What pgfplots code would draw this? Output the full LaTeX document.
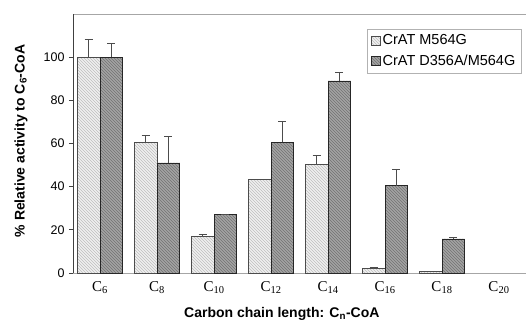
\documentclass[border=0pt]{standalone}
\usepackage{pgfplots}
\pgfplotsset{compat=1.18}
\usepackage{fontspec}
\setmainfont{Liberation Sans}
\newfontfamily\serif{Liberation Serif}
\usetikzlibrary{patterns}
\definecolor{lightfill}{HTML}{F0F0F0}
\definecolor{darkfill}{HTML}{A4A4A4}
\begin{document}
\begin{tikzpicture}
\useasboundingbox (-73pt,-49pt) rectangle (453pt,273pt);
\begin{axis}[
  at={(0,0)}, anchor=south west, scale only axis,
  width=453pt, height=259pt,
  xmin=-0.474, xmax=7.474, ymin=0, ymax=120,
  axis x line*=box, axis y line*=left,
  x axis line style={draw=gray!70, line width=1pt},
  y axis line style={draw=black!75, line width=0.8pt},
  ytick={0,20,40,60,80,100},
  xtick={0,1,2,3,4,5,6,7},
  xticklabels={{\serif C\textsubscript{6}},{\serif C\textsubscript{8}},{\serif C\textsubscript{10}},{\serif C\textsubscript{12}},{\serif C\textsubscript{14}},{\serif C\textsubscript{16}},{\serif C\textsubscript{18}},{\serif C\textsubscript{20}}},
  x tick style={draw=none},
  y tick style={draw=black!75, line width=0.8pt},
  tick align=outside, major tick length=4pt,
  /pgf/number format/assume math mode=true,
  yticklabel style={font=\fontsize{12.5}{14}\selectfont, xshift=-1pt},
  xticklabel style={font=\fontsize{15}{17}\selectfont, yshift=-1pt},
  ylabel={\% Relative activity to C\textsubscript{6}-CoA},
  xlabel={Carbon chain length: C\textsubscript{n}-CoA},
  every axis y label/.style={at={(axis description cs:-0.115,0.51)}, rotate=90, anchor=center, font=\bfseries\fontsize{14}{16}\selectfont},
  every axis x label/.style={at={(axis description cs:0.461,-0.158)}, anchor=center, font=\bfseries\fontsize{14}{16}\selectfont},
  ybar, bar width=0.4,
  legend style={at={(0.989,0.942)}, anchor=north east, draw=gray!60, font=\fontsize{14.5}{16}\selectfont, row sep=5pt, inner sep=3.5pt},
  legend cell align=left,
  legend image code/.code={\draw[#1] (0pt,-4.5pt) rectangle (9pt,4.5pt);},
  error bars/y dir=plus, error bars/y explicit,
  error bars/error bar style={draw=black!70, line width=0.9pt},
  error bars/error mark options={rotate=90, mark size=4pt, draw=black!70, line width=0.9pt},
]
\addplot[bar shift=-0.2, draw=black!70, line width=0.8pt, fill=lightfill,
  postaction={pattern=north west lines, pattern color=gray!50}]
  coordinates {(0,100) +- (0,8.4) (1,60.5) +- (0,3.2) (2,17) +- (0,0.7) (3,43.5) +- (0,0) (4,50.5) +- (0,4) (5,2.2) +- (0,0.5) (6,0.6) +- (0,0.3)};
\addplot[bar shift=0.2, draw=black!85, line width=0.8pt, fill=darkfill,
  postaction={pattern=north west lines, pattern color=black!55}]
  coordinates {(0,100) +- (0,6.2) (1,51) +- (0,12.2) (2,27) +- (0,0.3) (3,60.5) +- (0,9.7) (4,89) +- (0,3.9) (5,40.5) +- (0,7.7) (6,15.8) +- (0,0.7)};
\legend{CrAT M564G, CrAT D356A/M564G}
\end{axis}
\end{tikzpicture}
\end{document}
